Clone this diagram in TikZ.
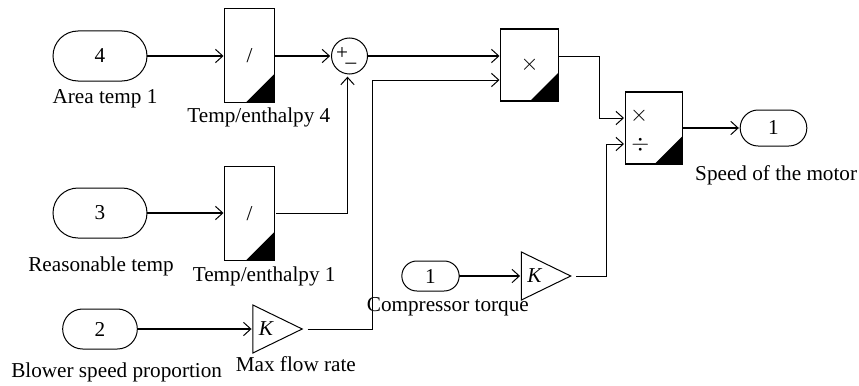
\documentclass[tikz,border=0pt]{standalone}
\usepackage{fontspec}
\setmainfont{Liberation Serif}
\usetikzlibrary{positioning, arrows.meta, shapes.geometric, shapes.misc}
\tikzset{
	>={Straight Barb[length=5.5pt,width=10pt,line width=0.75pt]},
	every node/.append style={
		font={\fontsize{15.9}{18}\selectfont},
		outer sep=0pt,
	},
	port/.append style={
		draw,
		rounded rectangle,
		line width=0.75pt,
		inner sep=0pt,
	},
	blockbox/.append style={
		draw,
		line width=0.9pt,
		inner sep=0pt,
		path picture={
			\fill (path picture bounding box.south east) -- ++(0,21pt) -- ++(-21pt,-21pt) -- cycle;
		},
	},
	gainbox/.append style={
		draw,
		isosceles triangle,
		isosceles triangle apex angle=52,
		isosceles triangle stretches,
		line width=0.75pt,
		inner sep=0pt,
		minimum width=36pt,
		minimum height=37pt,
	},
	sumbox/.append style={
		draw,
		circle,
		line width=0.75pt,
		inner sep=0pt,
		minimum size=27pt,
	},
	labe/.append style={
		inner sep=0pt,
		anchor=north,
	},
	wire/.append style={
		->,
		line width=0.7pt,
	},
	busline/.append style={
		->,
		line width=1.3pt,
	},
}
\begin{document}
\begin{tikzpicture}[x=0.75pt,y=-0.75pt]
\useasboundingbox (0,0) rectangle (859,385);

\node(inFour)[port,minimum width=70.5pt,minimum height=37.5pt] at (100,56) {4};
\node(inThree)[port,minimum width=70.5pt,minimum height=37.5pt] at (100,213) {3};
\node(inTwo)[port,minimum width=56pt,minimum height=30pt] at (100,329) {2};
\node(inOne)[port,minimum width=43pt,minimum height=22.5pt] at (430.5,276) {1};
\node(outOne)[port,minimum width=50pt,minimum height=27pt] at (773.5,128) {1};

\node(divFour)[blockbox,minimum width=37pt,minimum height=70pt] at (249.5,55.5) {/};
\node(divOne)[blockbox,minimum width=37pt,minimum height=70pt] at (249.5,213.5) {/};
\node(sum)[sumbox] at (349.5,56) {+\kern-2pt\raisebox{-1pt}{\_}\kern5pt};
\node(prodOne)[blockbox,minimum width=43pt,minimum height=54pt] at (529.5,65) {\raisebox{-1.5pt}{$\times$}};
\node(prodTwo)[blockbox,minimum width=43pt,minimum height=54pt] at (654,128) {};
\node(timesSign)[right=3.5pt of prodTwo.west,yshift=9pt,inner sep=0pt] {$\times$};
\node(divSign)[right=4.5pt of prodTwo.west,yshift=-12.5pt,inner sep=0pt] {$\div$};
\node(gainOne)[gainbox] at (266.5,329) {\textit{K}};
\node(gainTwo)[gainbox] at (535,276) {\textit{K}};

\node(areaLabel)[labe,below=6.75pt of inFour,xshift=3.75pt] {Area temp 1};
\node(enthFourLabel)[labe,below=4.5pt of divFour,xshift=7pt] {Temp/enthalpy 4};
\node(reasonLabel)[labe,below=14pt of inThree,xshift=0.75pt] {Reasonable temp};
\node(enthOneLabel)[labe,below=5pt of divOne,xshift=11pt] {Temp/enthalpy 1};
\node(blowerLabel)[labe,below=10pt of inTwo,xshift=12.5pt] {Blower speed proportion};
\node(flowLabel)[labe,below=7.5pt of gainOne,xshift=22pt] {Max flow rate};
\node(torqueLabel)[labe,below=4.5pt of inOne,xshift=13pt] {Compressor torque};
\node(speedLabel)[labe,below=15pt of outOne,xshift=2pt] {Speed of the motor};

\coordinate(busTurn) at (372,80);
\coordinate(prodTurn) at (599,118);
\coordinate(torqueTurn) at (606,144);

\draw[busline,shorten >=1pt] (inFour.east) -- (inFour.east -| divFour.west);
\draw[busline,shorten >=1pt] (inThree.east) -- (inThree.east -| divOne.west);
\draw[busline,shorten >=1pt] (inTwo.east) -- (gainOne.west |- inTwo.east);
\draw[busline,shorten >=1pt] (inOne.east) -- (gainTwo.west |- inOne.east);
\draw[busline,shorten >=1pt] (divFour.east |- sum.west) -- (sum.west);
\draw[busline,shorten >=1pt] (sum.east) -- (prodOne.west |- sum.east);
\draw[busline,shorten >=1pt] (prodTwo.east) -- (outOne.west);
\draw[wire,shorten <=1.5pt,shorten >=2pt] (divOne.east) -| ([xshift=-1.5pt]sum.south);
\draw[wire,shorten <=4pt,shorten >=1pt] (gainOne.apex) -| (busTurn) -- (prodOne.west |- busTurn);
\draw[wire,shorten >=1pt] (prodOne.east |- sum.east) -| (prodTurn) -- (prodTwo.west |- prodTurn);
\draw[wire,shorten <=4pt,shorten >=1pt] (gainTwo.apex) -| (torqueTurn) -- (prodTwo.west |- torqueTurn);
\end{tikzpicture}
\end{document}
